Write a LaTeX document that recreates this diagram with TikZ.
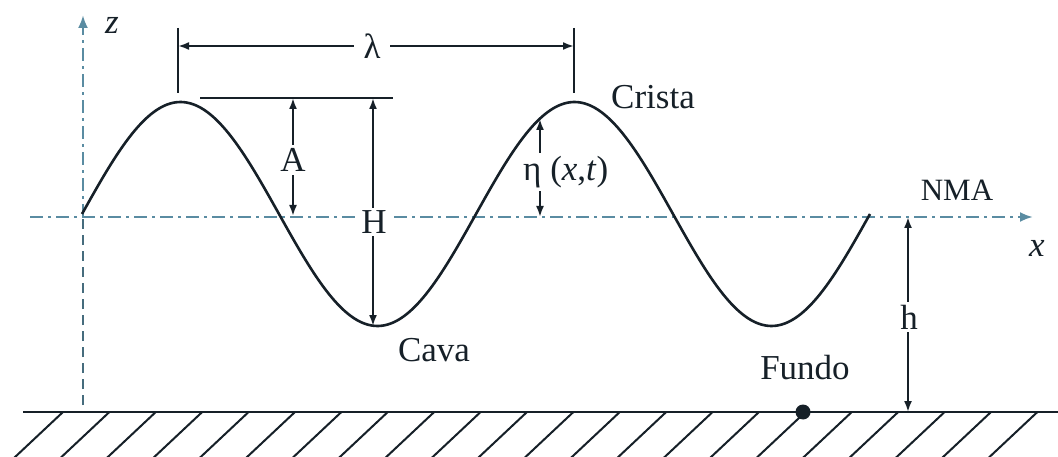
\documentclass[tikz,border=0pt]{standalone}
\usepackage{fontspec}
\setmainfont{Liberation Serif}
\usetikzlibrary{arrows.meta}
\definecolor{ink}{RGB}{22,32,40}
\definecolor{axisblue}{RGB}{90,140,162}
\begin{document}
\begin{tikzpicture}[x=1pt,y=-1pt,
  solid line/.style={draw=ink, line width=2.2pt},
  dim/.style={draw=ink, line width=2pt, {Latex[length=11pt,width=8pt]}-{Latex[length=11pt,width=8pt]}},
  dashdot/.style={draw=axisblue, line width=2.6pt, dash pattern=on 13pt off 5pt on 3pt off 5pt},
  dashline/.style={draw=axisblue!70!ink, line width=2.2pt, dash pattern=on 10pt off 6pt},
  lbl/.style={text=ink, font=\fontsize{35}{40}\selectfont, inner sep=2pt},
  gaplbl/.style={lbl, fill=white, inner sep=3pt},
  hatch/.style={draw=ink, line width=2pt}
]
\useasboundingbox (0,0) rectangle (1058,457);
\fill[white] (0,0) rectangle (1058,457);

% coordinates
\coordinate (zbot) at (83,405);
\coordinate (zmid) at (83,217);
\coordinate (ztop) at (83,15);
\coordinate (xstart) at (30,217);
\coordinate (xend) at (1033,217);
\coordinate (gl) at (23,412);
\coordinate (gr) at (1058,412);

% axes
\draw[dashline] (zbot) -- (zmid);
\draw[dashdot, -{Latex[length=13pt,width=10pt]}] (zmid) -- (ztop);
\draw[dashdot, -{Latex[length=13pt,width=10pt]}] (xstart) -- (xend);
\node[lbl, font=\fontsize{35}{40}\selectfont\itshape] (zl) at (112,25) {z};
\node[lbl, font=\fontsize{35}{40}\selectfont\itshape] (xl) at (1037,248) {x};

% ground
\draw[solid line, line width=2.4pt] (gl) -- (gr);
\foreach \k in {0,...,21}{
  \draw[hatch] ({63+46.4*\k},412) -- ++(-49,46);
}
\node[circle, fill=ink, minimum size=15pt, inner sep=0pt] (dot) at (803,412) {};
\node[lbl] (fundo) at (805,368) {Fundo};

% wave
\draw[solid line, line width=2.6pt, smooth, samples=160, domain=82:870]
  plot (\x, {214 - 112*sin(0.913706*(\x-82))});

% lambda
\coordinate (t1a) at (178,28); \coordinate (t1b) at (178,93);
\coordinate (t2a) at (574,28); \coordinate (t2b) at (574,93);
\draw[solid line, line width=2pt] (t1a) -- (t1b);
\draw[solid line, line width=2pt] (t2a) -- (t2b);
\coordinate (l1) at (178,46); \coordinate (l2) at (574,46);
\draw[dim] (l1) -- (l2);
\node[gaplbl, inner xsep=10pt] (lam) at (372,46) {λ};

% crest line
\coordinate (c1) at (200,98); \coordinate (c2) at (393,98);
\draw[solid line, line width=2pt] (c1) -- (c2);

% A
\coordinate (a1) at (293,98); \coordinate (a2) at (293,216);
\draw[dim] (a1) -- (a2);
\node[gaplbl] (A) at (293,160) {A};

% H
\coordinate (h1) at (373,98); \coordinate (h2) at (373,326);
\draw[dim] (h1) -- (h2);
\node[gaplbl] (H) at (374,222) {H};

% eta
\coordinate (e1) at (540,119); \coordinate (e2) at (540,217);
\draw[dim] (e1) -- (e2);
\node[gaplbl, anchor=west, inner xsep=1pt] (eta) at (522,172) {η (\textit{x},\textit{t})};

% h depth
\coordinate (d1) at (908,217); \coordinate (d2) at (908,412);
\draw[dim] (d1) -- (d2);
\node[gaplbl] (hd) at (909,317) {h};

% labels
\node[lbl] (crista) at (653,97) {Crista};
\node[lbl] (cava) at (434,350) {Cava};
\node[lbl, font=\fontsize{31}{36}\selectfont] (nma) at (957,190) {NMA};
\end{tikzpicture}
\end{document}
